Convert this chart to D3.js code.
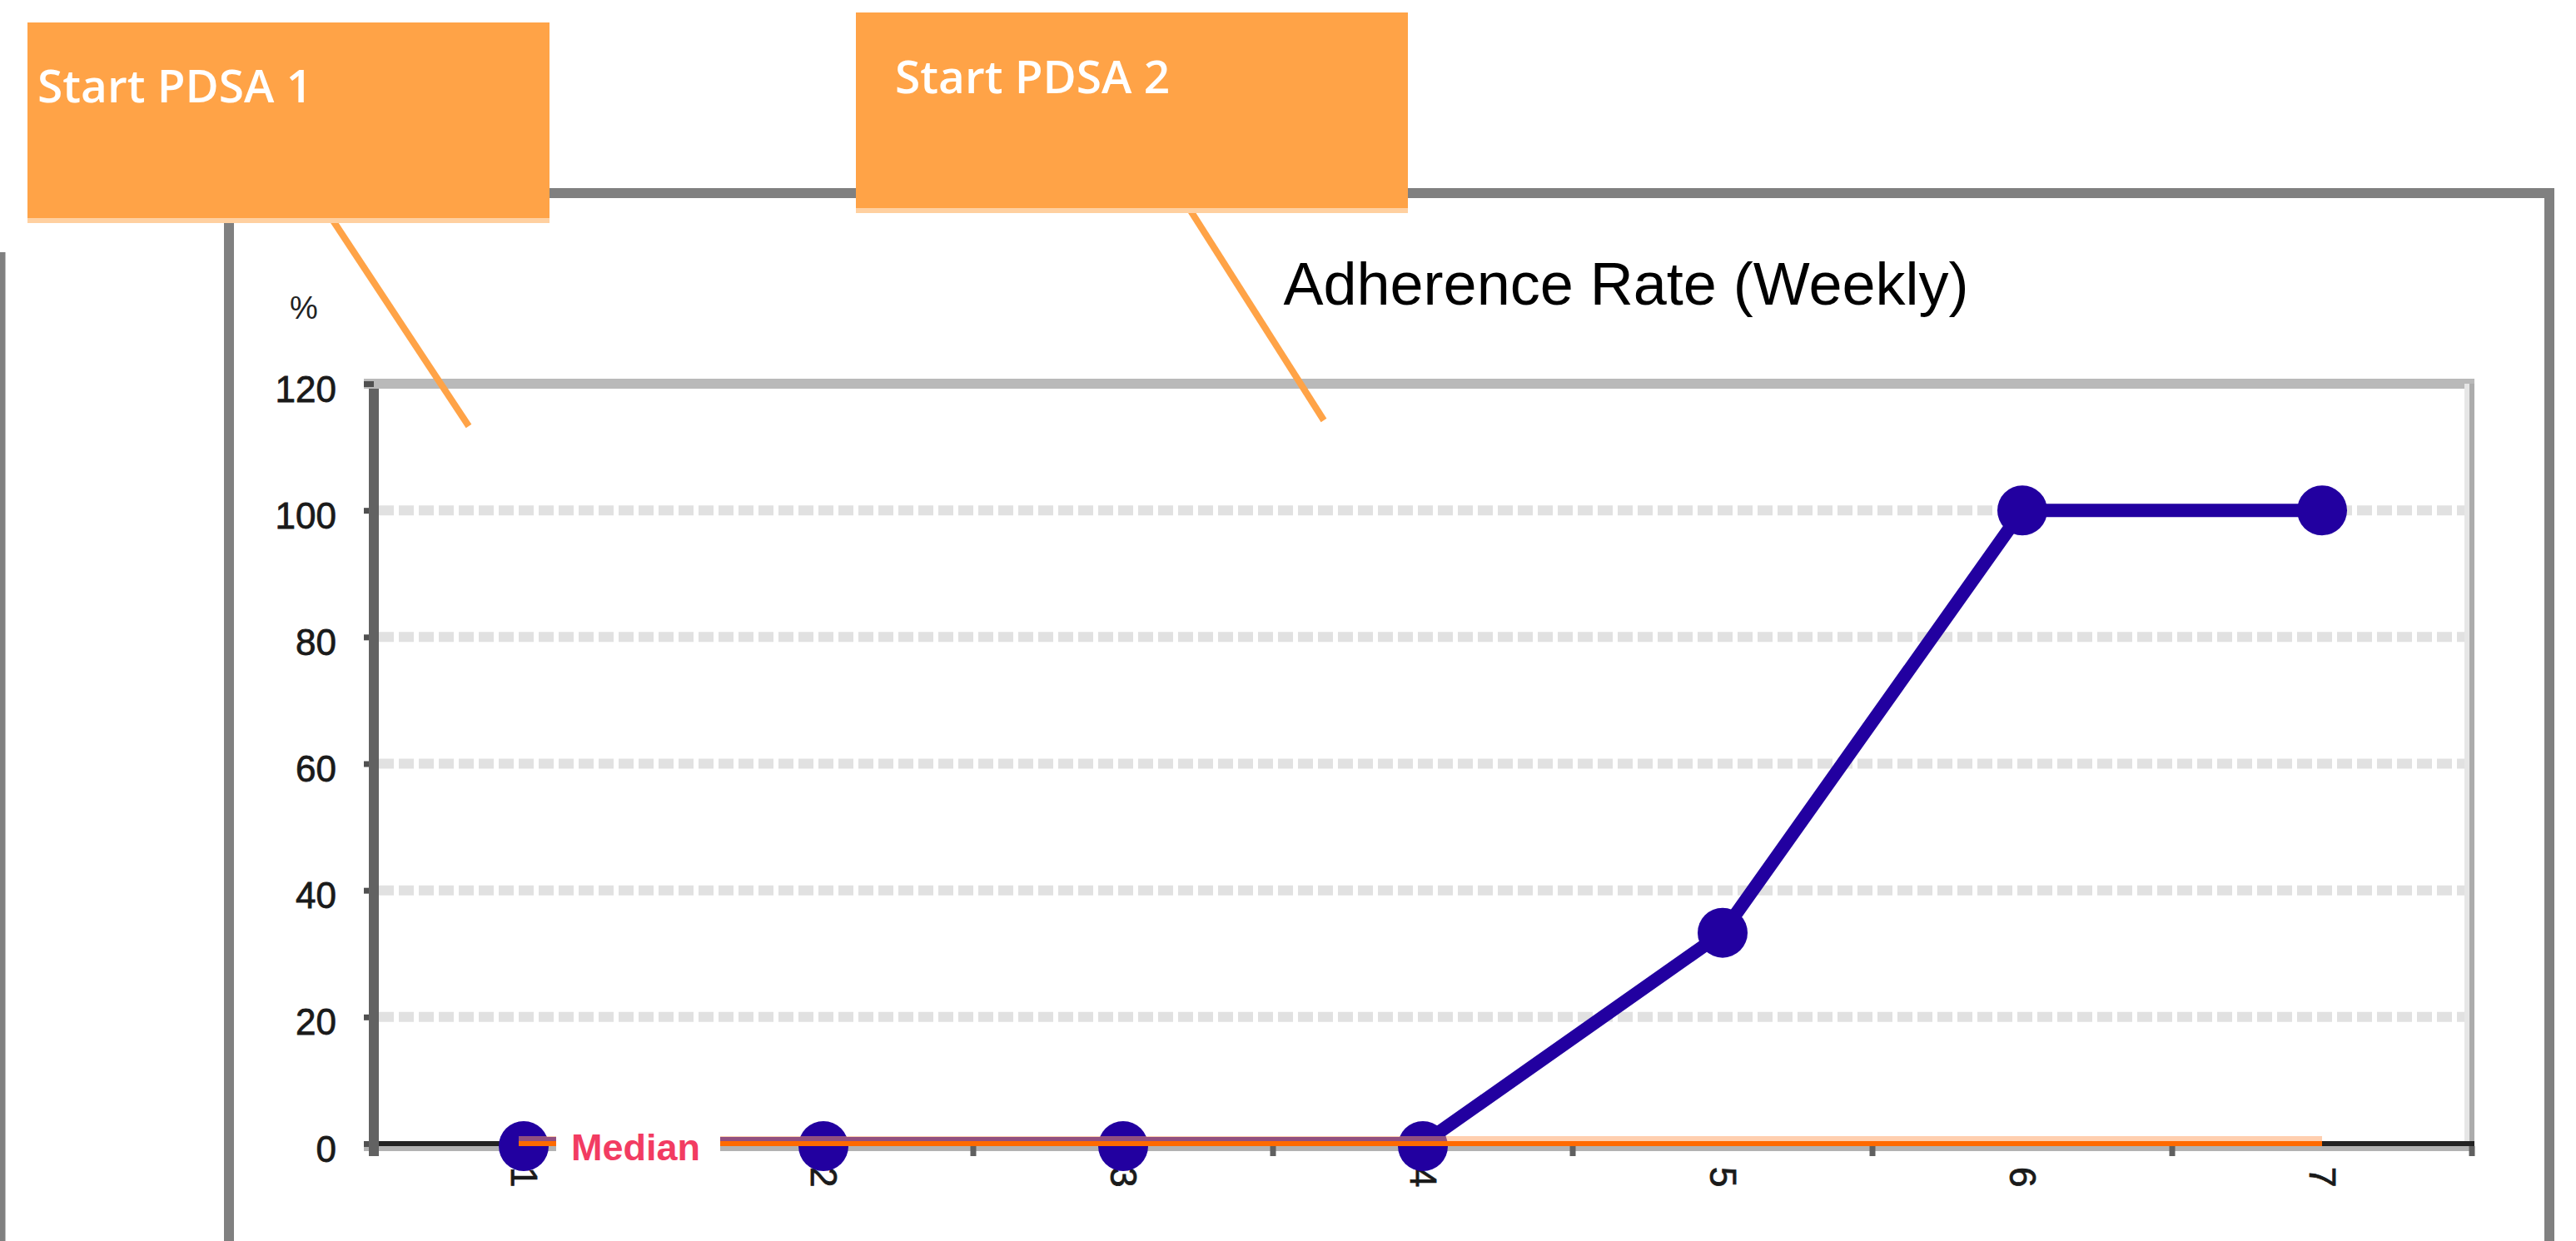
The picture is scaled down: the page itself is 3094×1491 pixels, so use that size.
<!DOCTYPE html>
<html>
<head>
<meta charset="utf-8">
<script src="https://cdn.jsdelivr.net/npm/d3@7"></script>
<style>
  body { margin: 0; background: #fff; }
  svg { display: block; font-family: "Liberation Sans", Arial, sans-serif; }
</style>
</head>
<body>
<svg id="chart" width="3094" height="1491"></svg>
<script>
// data
var weeks = ["1", "2", "3", "4", "5", "6", "7"];
var adherence = [0, 0, 0, 0, 33.3, 100, 100];
var medianValue = 0;
var yTicks = [0, 20, 40, 60, 80, 100, 120];
var notes = ["Start PDSA 1", "Start PDSA 2"];

var svg = d3.select("#chart");

var x = d3.scaleBand().domain(weeks).range([449, 2969]);
var y = d3.scaleLinear().domain([0, 120]).range([1374, 461]);
var cx = function(d) { return x(d) + x.bandwidth() / 2; };

// outer frames
svg.append("line").attr("x1", 3).attr("x2", 3).attr("y1", 303).attr("y2", 1491)
  .attr("stroke", "#808080").attr("stroke-width", 7);
svg.append("path")
  .attr("d", "M275,1491 V232 H3062 V1491")
  .attr("fill", "none").attr("stroke", "#808080").attr("stroke-width", 12);

// grid
svg.append("g").selectAll("line")
  .data(yTicks.filter(function(t) { return t > 0 && t < 120; }))
  .enter().append("line")
  .attr("x1", 455).attr("x2", 2960)
  .attr("y1", function(d) { return y(d); })
  .attr("y2", function(d) { return y(d); })
  .attr("stroke", "#e1e1e1").attr("stroke-width", 12)
  .attr("stroke-dasharray", "18,6");
svg.append("line").attr("x1", 437).attr("x2", 2972).attr("y1", y(120)).attr("y2", y(120))
  .attr("stroke", "#b9b9b9").attr("stroke-width", 12);
svg.append("rect").attr("x", 2960).attr("y", y(120)).attr("width", 6).attr("height", 1383 - y(120))
  .attr("fill", "#e6e6e6");
svg.append("rect").attr("x", 2966).attr("y", y(120)).attr("width", 6).attr("height", 1383 - y(120))
  .attr("fill", "#acacac");

// data line (under axis lines so its lower edge is hidden)
var line = d3.line()
  .x(function(d, i) { return cx(weeks[i]); })
  .y(function(d) { return y(d); });
svg.append("path").datum(adherence)
  .attr("d", line)
  .attr("fill", "none").attr("stroke", "#2200a0").attr("stroke-width", 16)
  .attr("stroke-linejoin", "round");

// x axis
svg.append("line").attr("x1", 437).attr("x2", 2972).attr("y1", y(0) + 6).attr("y2", y(0) + 6)
  .attr("stroke", "#b2b2b2").attr("stroke-width", 6);
svg.append("line").attr("x1", 437).attr("x2", 2972).attr("y1", y(0)).attr("y2", y(0))
  .attr("stroke", "#232323").attr("stroke-width", 6);
svg.append("g").selectAll("line")
  .data(weeks)
  .enter().append("line")
  .attr("x1", function(d) { return x(d) + x.bandwidth(); })
  .attr("x2", function(d) { return x(d) + x.bandwidth(); })
  .attr("y1", y(0) + 3).attr("y2", y(0) + 15)
  .attr("stroke", "#606060").attr("stroke-width", 7);

var xAxis = svg.append("g")
  .attr("transform", "translate(0," + y(0) + ")")
  .call(d3.axisBottom(x).tickSize(0).tickPadding(0));
xAxis.select(".domain").remove();
xAxis.selectAll("text")
  .attr("x", 0).attr("y", 0).attr("dy", "0.35em")
  .attr("transform", "translate(0,28) rotate(90)")
  .attr("text-anchor", "start")
  .attr("font-size", 44).attr("fill", "#1a1a1a")
  .attr("stroke", "#1a1a1a").attr("stroke-width", 0.8)
  .attr("font-family", "'Liberation Sans', Arial, sans-serif");

// y axis
var yAxis = svg.append("g")
  .attr("transform", "translate(449,0)")
  .call(d3.axisLeft(y).tickValues(yTicks).tickSize(12).tickPadding(33));
yAxis.select(".domain").remove();
yAxis.selectAll(".tick line").attr("stroke", "#505050").attr("stroke-width", 7);
yAxis.selectAll("text")
  .attr("dy", 21)
  .attr("font-size", 44).attr("fill", "#1a1a1a")
  .attr("stroke", "#1a1a1a").attr("stroke-width", 0.8)
  .attr("font-family", "'Liberation Sans', Arial, sans-serif");
svg.append("line").attr("x1", 449).attr("x2", 449).attr("y1", y(120) + 6).attr("y2", 1389)
  .attr("stroke", "#626262").attr("stroke-width", 12);

svg.append("text").attr("x", 365).attr("y", 383).attr("text-anchor", "middle")
  .attr("font-size", 38).attr("fill", "#222").text("%");

// points
svg.append("g").selectAll("circle")
  .data(adherence)
  .enter().append("circle")
  .attr("cx", function(d, i) { return cx(weeks[i]); })
  .attr("cy", function(d) { return y(d) + (d === 0 ? 3 : 0); })
  .attr("r", 30)
  .attr("fill", "#2200a0");

// median line
var x0 = cx(weeks[0]) - 6, x1 = cx(weeks[weeks.length - 1]);
svg.append("line").attr("x1", x0).attr("x2", x1)
  .attr("y1", y(medianValue) - 6).attr("y2", y(medianValue) - 6)
  .attr("stroke", "rgba(255,160,96,0.5)").attr("stroke-width", 6);
svg.append("line").attr("x1", x0).attr("x2", x1)
  .attr("y1", y(medianValue)).attr("y2", y(medianValue))
  .attr("stroke", "#ff6a00").attr("stroke-width", 6);

svg.append("rect").attr("x", 668).attr("y", y(medianValue) - 16).attr("width", 197).attr("height", 36)
  .attr("fill", "#fff");
svg.append("text").attr("x", 686).attr("y", y(medianValue) + 20)
  .attr("font-size", 45).attr("font-weight", "bold").attr("fill", "#f23c62").text("Median");

// title
svg.append("text").attr("x", 1953).attr("y", 366).attr("text-anchor", "middle")
  .attr("font-size", 72).attr("fill", "#000").text("Adherence Rate (Weekly)");

// callouts
var boxes = [
  {x: 33, y: 27, w: 627, h: 235, tx: 45, ty: 123, lx1: 398, ly1: 262, lx2: 563, ly2: 512},
  {x: 1028, y: 15, w: 663, h: 235, tx: 1075, ty: 112, lx1: 1428, ly1: 250, lx2: 1590, ly2: 505}
];
boxes.forEach(function(b, i) {
  svg.append("line").attr("x1", b.lx1).attr("y1", b.ly1).attr("x2", b.lx2).attr("y2", b.ly2)
    .attr("stroke", "#ffa347").attr("stroke-width", 8);
  svg.append("rect").attr("x", b.x).attr("y", b.y + b.h).attr("width", b.w).attr("height", 6)
    .attr("fill", "#ffd0a0");
  svg.append("rect").attr("x", b.x).attr("y", b.y).attr("width", b.w).attr("height", b.h)
    .attr("fill", "#ffa347");
  svg.append("text").attr("x", b.tx).attr("y", b.ty)
    .attr("font-family", "'Open Sans', sans-serif").attr("font-size", 55).attr("font-weight", 600)
    .attr("fill", "#fff").text(notes[i]);
});
</script>
</body>
</html>
